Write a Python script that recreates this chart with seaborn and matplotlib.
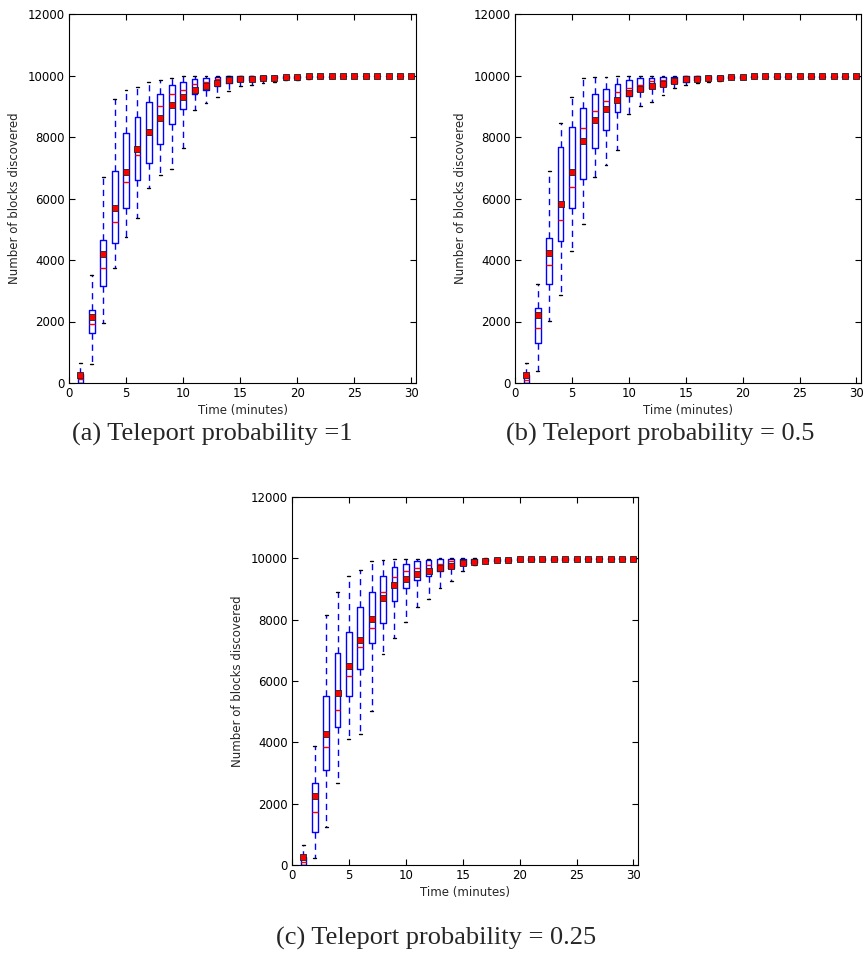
import numpy as np
import matplotlib
matplotlib.use("Agg")
import matplotlib.pyplot as plt
import seaborn as sns

times = list(range(1, 31))

# Panel (a) teleport probability = 1
mean_a = [250, 2137, 4188, 5685, 6846, 7605, 8159, 8614, 9048, 9287, 9515, 9645, 9754, 9840, 9873,
          9895, 9927, 9927, 9949, 9949, 9971, 9971, 9971, 9993, 9993, 9993, 9993, 9993, 9993, 9993]
med_a = [120, 1931, 3743, 5251, 6542, 7410, 8083, 9005, 9406, 9526, 9710, 9786, 9900, 9930, 9950,
         9950, 9960, 9960, 9965, 9965, 9975, 9975, 9975, 9995, 9995, 9995, 9995, 9995, 9995, 9995]
q1_a = [0, 1627, 3168, 4557, 5707, 6586, 7161, 7779, 8419, 8918, 9406, 9526, 9656, 9770, 9810,
        9850, 9900, 9905, 9930, 9930, 9960, 9960, 9960, 9985, 9985, 9985, 9985, 9985, 9985, 9985]
q3_a = [280, 2387, 4644, 6889, 8137, 8658, 9124, 9385, 9689, 9797, 9873, 9927, 9949, 9971, 9975,
        9980, 9985, 9985, 9990, 9990, 9995, 9995, 9995, 10000, 10000, 10000, 10000, 10000, 10000, 10000]
wlo_a = [0, 608, 1953, 3743, 4752, 5381, 6336, 6759, 6955, 7627, 8875, 9092, 9287, 9493, 9656,
         9678, 9765, 9800, 9850, 9860, 9900, 9910, 9920, 9950, 9955, 9960, 9960, 9960, 9960, 9960]
whi_a = [660, 3526, 6694, 9244, 9526, 9623, 9797, 9851, 9927, 9971, 9971, 9982, 9990, 9995, 10000,
         10000, 10000, 10000, 10000, 10000, 10000, 10000, 10000, 10000, 10000, 10000, 10000, 10000, 10000, 10000]

# Panel (b) teleport probability = 0.5
mean_b = [250, 2213, 4231, 5837, 6868, 7877, 8560, 8907, 9200, 9439, 9569, 9645, 9732, 9819, 9873,
          9895, 9916, 9927, 9949, 9949, 9971, 9971, 9971, 9971, 9975, 9975, 9975, 9975, 9975, 9975]
med_b = [100, 1801, 3830, 5316, 6390, 8300, 8842, 9179, 9450, 9580, 9700, 9819, 9860, 9900, 9930,
         9950, 9955, 9960, 9970, 9970, 9980, 9980, 9980, 9980, 9985, 9985, 9985, 9985, 9985, 9985]
q1_b = [0, 1313, 3233, 4633, 5707, 6629, 7649, 8213, 8821, 9341, 9493, 9580, 9670, 9750, 9800,
        9850, 9880, 9900, 9930, 9930, 9955, 9955, 9955, 9955, 9960, 9960, 9960, 9960, 9960, 9960]
q3_b = [250, 2441, 4730, 7671, 8322, 8929, 9406, 9548, 9710, 9841, 9927, 9927, 9960, 9965, 9970,
        9975, 9980, 9980, 9985, 9985, 9990, 9990, 9990, 9990, 9995, 9995, 9995, 9995, 9995, 9995]
wlo_b = [0, 401, 2018, 2864, 4307, 5164, 6683, 7074, 7573, 8745, 8994, 9146, 9363, 9580, 9700,
         9754, 9800, 9830, 9870, 9880, 9910, 9920, 9925, 9930, 9935, 9935, 9935, 9935, 9935, 9935]
whi_b = [660, 3222, 6889, 8463, 9287, 9927, 9949, 9949, 9971, 9971, 9990, 9990, 9990, 9995, 9995,
         10000, 10000, 10000, 10000, 10000, 10000, 10000, 10000, 10000, 10000, 10000, 10000, 10000, 10000, 10000]

# Panel (c) teleport probability = 0.25
mean_c = [261, 2237, 4257, 5593, 6484, 7341, 8015, 8699, 9122, 9329, 9481, 9590, 9687, 9763, 9839,
          9883, 9926, 9948, 9948, 9970, 9970, 9970, 9970, 9970, 9970, 9991, 9991, 9991, 9991, 9991]
med_c = [100, 1738, 3834, 5050, 6158, 7113, 7743, 8916, 9383, 9579, 9687, 9785, 9828, 9900, 9920,
         9940, 9960, 9965, 9965, 9980, 9980, 9980, 9980, 9980, 9980, 9995, 9995, 9995, 9995, 9995]
q1_c = [0, 1064, 3084, 4507, 5517, 6407, 7233, 7895, 8612, 9046, 9285, 9426, 9590, 9700, 9790,
        9850, 9900, 9920, 9925, 9950, 9950, 9950, 9950, 9950, 9950, 9975, 9975, 9975, 9975, 9975]
q3_c = [250, 2682, 5495, 6918, 7602, 8417, 8916, 9437, 9709, 9807, 9905, 9948, 9970, 9975, 9975,
        9980, 9985, 9990, 9990, 9995, 9995, 9995, 9995, 9995, 9995, 10000, 10000, 10000, 10000, 10000]
wlo_c = [0, 217, 1227, 2682, 4116, 4257, 5017, 6896, 7417, 7939, 8406, 8677, 9036, 9275, 9579,
         9774, 9850, 9880, 9890, 9920, 9925, 9930, 9930, 9930, 9930, 9960, 9960, 9960, 9960, 9960]
whi_c = [652, 3877, 8156, 8905, 9437, 9633, 9926, 9948, 9970, 9970, 9980, 9990, 9995, 9995, 10000,
         10000, 10000, 10000, 10000, 10000, 10000, 10000, 10000, 10000, 10000, 10000, 10000, 10000, 10000, 10000]

captions = ["(a) Teleport probability =1",
            "(b) Teleport probability = 0.5",
            "(c) Teleport probability = 0.25"]
xticks = [0, 5, 10, 15, 20, 25, 30]
yticks = [0, 2000, 4000, 6000, 8000, 10000, 12000]

sns.set_style("ticks")
plt.rcParams["font.family"] = ["DejaVu Sans"]
plt.rcParams["lines.scale_dashes"] = False

fig = plt.figure(figsize=(8.64, 9.58), dpi=100)
rects = [
    [69 / 864, (958 - 383) / 958, 347 / 864, 369 / 958],
    [515 / 864, (958 - 383) / 958, 346 / 864, 369 / 958],
    [292 / 864, (958 - 865) / 958, 346 / 864, 368 / 958],
]
panels = [
    (mean_a, med_a, q1_a, q3_a, wlo_a, whi_a),
    (mean_b, med_b, q1_b, q3_b, wlo_b, whi_b),
    (mean_c, med_c, q1_c, q3_c, wlo_c, whi_c),
]
cap_pos = [(212 / 864, 1 - 434 / 958), (660 / 864, 1 - 434 / 958), (436 / 864, 1 - 938 / 958)]

for rect, (mean, med, q1, q3, wlo, whi), cap, cpos in zip(rects, panels, captions, cap_pos):
    ax = fig.add_axes(rect)
    stats = []
    for i in range(len(times)):
        stats.append(dict(med=med[i], q1=q1[i], q3=q3[i], whislo=wlo[i], whishi=whi[i],
                          mean=mean[i], fliers=[]))
    ax.bxp(stats, positions=times, widths=0.5, showfliers=False, manage_ticks=False,
           boxprops=dict(color="blue", linewidth=1.0),
           whiskerprops=dict(color="blue", linewidth=1.0, linestyle=(0, (4.5, 3.5))),
           capprops=dict(color="black", linewidth=1.0),
           medianprops=dict(color="red", linewidth=1.0))
    sns.scatterplot(x=times, y=mean, marker="s", color="red", edgecolor="#222222",
                    linewidth=0.6, s=24, ax=ax, zorder=5, legend=False)
    ax.set_xlim(0, 30.4)
    ax.set_ylim(0, 12000)
    ax.set_xticks(xticks)
    ax.set_yticks(yticks)
    ax.tick_params(direction="in", top=True, right=True, length=4, width=0.8,
                   labelsize=8.5, colors="black", pad=3)
    for sp in ax.spines.values():
        sp.set_visible(True)
        sp.set_color("black")
        sp.set_linewidth(0.8)
    ax.set_xlabel("Time (minutes)", fontsize=8.5, labelpad=3)
    ax.set_ylabel("Number of blocks discovered", fontsize=8.5, labelpad=5)
    fig.text(cpos[0], cpos[1], cap, ha="center", va="center",
             fontsize=19, family=["Liberation Serif", "DejaVu Serif"])

fig.savefig("out.png", dpi=100)
